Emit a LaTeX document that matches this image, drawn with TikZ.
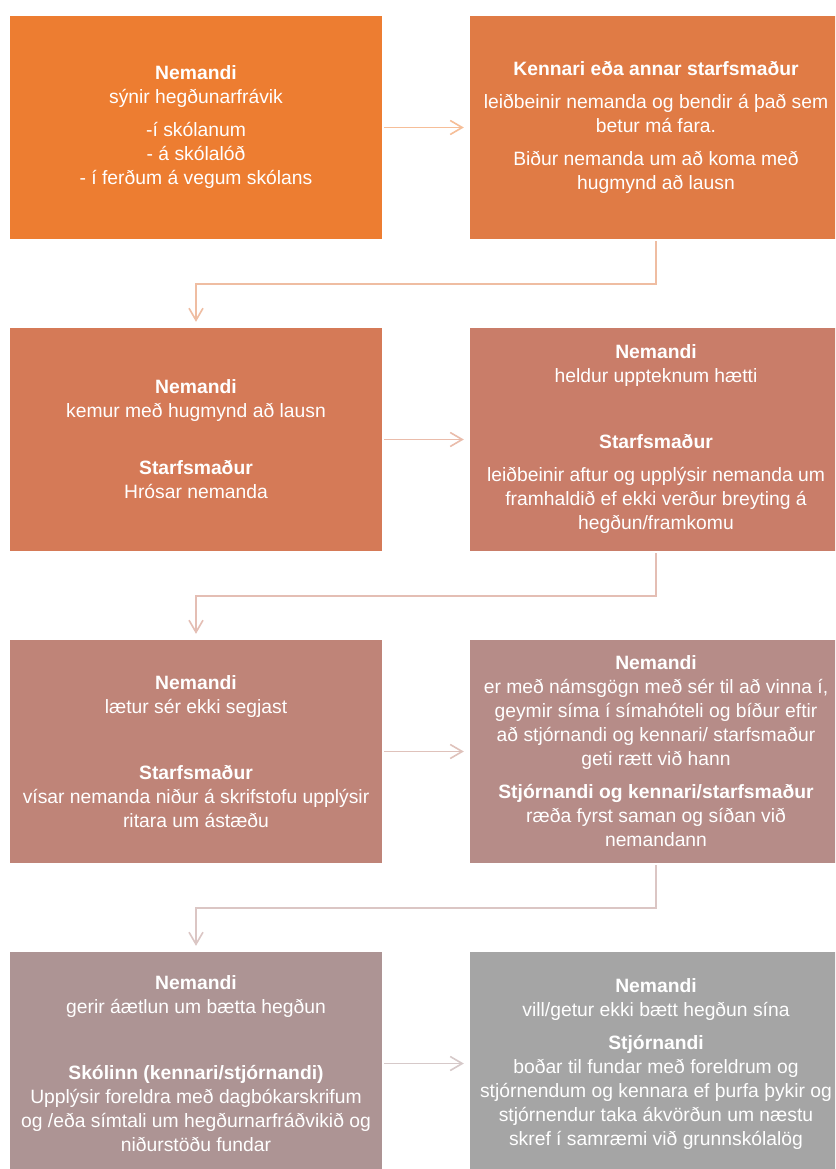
\documentclass[tikz,border=0pt]{standalone}
\usepackage{fontspec}
\setmainfont{Liberation Sans}
\usetikzlibrary{arrows.meta}
\definecolor{cA}{HTML}{ED7D31}
\definecolor{cB}{HTML}{E07B45}
\definecolor{cC}{HTML}{D57A57}
\definecolor{cD}{HTML}{C97D69}
\definecolor{cE}{HTML}{BF8478}
\definecolor{cF}{HTML}{B68C88}
\definecolor{cG}{HTML}{AD9494}
\definecolor{cH}{HTML}{A5A5A5}
\tikzset{
  box/.style={rectangle, minimum width=372pt, minimum height=223pt, inner sep=0pt,
    text=white, align=center, font=\fontsize{19.3}{24}\selectfont},
  arr/.style={line width=1.6pt, -{Straight Barb[length=12pt,width=14pt]},
    shorten <=2pt, shorten >=6pt},
}
\newcommand{\psep}{\\[9pt]}
\begin{document}
\begin{tikzpicture}[x=1pt,y=1pt]
\useasboundingbox (0,0) rectangle (835,-1169);
\clip (0,0) rectangle (835,-1169);
\fill[white] (0,0) rectangle (835,-1169);

\node[box, fill=cA] (b1) at (196,-127.5) {\textbf{Nemandi}\\sýnir hegðunarfrávik\psep -í skólanum\\- á skólalóð\\- í ferðum á vegum skólans};
\node[box, fill=cB] (b2) at (656,-127.5) {\textbf{Kennari eða annar starfsmaður}\psep leiðbeinir nemanda og bendir á það sem\\betur má fara.\psep Biður nemanda um að koma með\\hugmynd að lausn};

\node[box, fill=cC] (b3) at (196,-439.5) {\textbf{Nemandi}\\kemur með hugmynd að lausn\\\mbox{}\psep \textbf{Starfsmaður}\\Hrósar nemanda};
\node[box, fill=cD] (b4) at (656,-439.5) {\textbf{Nemandi}\\heldur uppteknum hætti\psep\mbox{}\psep \textbf{Starfsmaður}\psep leiðbeinir aftur og upplýsir nemanda um\\framhaldið ef ekki verður breyting á\\hegðun/framkomu};

\node[box, fill=cE] (b5) at (196,-751.5) {\textbf{Nemandi}\\lætur sér ekki segjast\psep\mbox{}\psep \textbf{Starfsmaður}\\vísar nemanda niður á skrifstofu upplýsir\\ritara um ástæðu};
\node[box, fill=cF] (b6) at (656,-751.5) {\textbf{Nemandi}\\er með námsgögn með sér til að vinna í,\\geymir síma í símahóteli og bíður eftir\\að stjórnandi og kennari/ starfsmaður\\geti rætt við hann\psep \textbf{Stjórnandi og kennari/starfsmaður}\\ræða fyrst saman og síðan við\\nemandann};

\node[box, fill=cG] (b7) at (196,-1063.5) {\textbf{Nemandi}\\gerir áætlun um bætta hegðun\psep\mbox{}\psep \textbf{Skólinn (kennari/stjórnandi)}\\Upplýsir foreldra með dagbókarskrifum\\og /eða símtali um hegðurnarfráðvikið og\\niðurstöðu fundar};
\node[box, fill=cH] (b8) at (656,-1063.5) {\textbf{Nemandi}\\vill/getur ekki bætt hegðun sína\psep \textbf{Stjórnandi}\\boðar til fundar með foreldrum og\\stjórnendum og kennara ef þurfa þykir og\\stjórnendur taka ákvörðun um næstu\\skref í samræmi við grunnskólalög};

\draw[arr, cA!50!white] (b1.east) -- (b2.west);
\draw[arr, cB!50!white] (b2.south) -- ++(0,-45) -| (b3.north);
\draw[arr, cC!50!white] (b3.east) -- (b4.west);
\draw[arr, cD!50!white] (b4.south) -- ++(0,-45) -| (b5.north);
\draw[arr, cE!50!white] (b5.east) -- (b6.west);
\draw[arr, cF!50!white] (b6.south) -- ++(0,-45) -| (b7.north);
\draw[arr, cG!50!white] (b7.east) -- (b8.west);
\end{tikzpicture}
\end{document}
